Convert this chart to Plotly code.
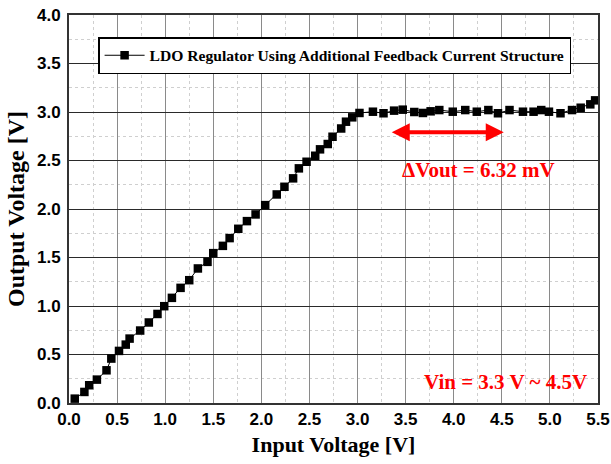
import plotly.graph_objects as go

vin = [0.06, 0.16, 0.21, 0.29, 0.39, 0.44, 0.52, 0.59, 0.63, 0.74,
       0.83, 0.92, 0.99, 1.07, 1.16, 1.25, 1.34, 1.44, 1.50, 1.60,
       1.67, 1.76, 1.85, 1.94, 2.04, 2.16, 2.24, 2.33, 2.39, 2.47,
       2.56, 2.61, 2.69, 2.74, 2.83, 2.88, 2.945, 3.02, 3.16, 3.27,
       3.38, 3.47, 3.59, 3.68, 3.76, 3.85, 3.99, 4.12, 4.24, 4.36,
       4.46, 4.58, 4.72, 4.83, 4.91, 4.99, 5.11, 5.23, 5.32, 5.42, 5.47]
vout = [0.045, 0.114, 0.183, 0.241, 0.337, 0.458, 0.537, 0.602, 0.664, 0.747,
        0.83, 0.918, 0.998, 1.084, 1.187, 1.266, 1.387, 1.455, 1.545, 1.62,
        1.70, 1.796, 1.875, 1.944, 2.04, 2.15, 2.229, 2.316, 2.419, 2.487,
        2.549, 2.615, 2.67, 2.745, 2.83, 2.90, 2.945, 2.99, 3.003, 2.987,
        3.014, 3.024, 3.0, 2.99, 3.007, 3.02, 3.003, 3.02, 3.003, 3.02,
        2.987, 3.02, 3.003, 3.003, 3.02, 3.003, 2.987, 3.02, 3.044, 3.079, 3.12]

series_name = "LDO Regulator Using Additional Feedback Current Structure"
x_ticks = [0.0, 0.5, 1.0, 1.5, 2.0, 2.5, 3.0, 3.5, 4.0, 4.5, 5.0, 5.5]
y_ticks = [0.0, 0.5, 1.0, 1.5, 2.0, 2.5, 3.0, 3.5, 4.0]
arrow_range = [3.34, 4.52]
arrow_level = 2.79
delta_label = "ΔVout = 6.32 mV"
vin_label = "Vin = 3.3 V ~ 4.5V"

serif = "Liberation Serif"
sans = "Liberation Sans"

fig = go.Figure()
fig.add_trace(go.Scatter(
    x=vin, y=vout, mode="lines+markers", name=series_name,
    line=dict(color="black", width=1),
    marker=dict(symbol="square", size=8.5, color="black"),
))

fig.add_annotation(
    x=arrow_range[1], y=arrow_level, ax=arrow_range[0], ay=arrow_level,
    xref="x", yref="y", axref="x", ayref="y", text="",
    showarrow=True, arrowhead=2, arrowside="end+start",
    arrowwidth=4, arrowsize=0.9, arrowcolor="red",
)
fig.add_annotation(
    x=4.26, y=2.40, xref="x", yref="y", text=delta_label, showarrow=False,
    font=dict(family=serif, size=21, color="red", weight="bold"),
)
fig.add_annotation(
    x=4.54, y=0.215, xref="x", yref="y", text=vin_label, showarrow=False,
    font=dict(family=serif, size=21, color="red", weight="bold"),
)

fig.update_layout(
    width=611, height=464,
    margin=dict(l=69, r=13, t=15, b=61),
    plot_bgcolor="white", paper_bgcolor="white",
    showlegend=True,
    legend=dict(
        x=0.055, y=0.943, xanchor="left", yanchor="top",
        bgcolor="white", bordercolor="black", borderwidth=1.5,
        font=dict(family=serif, size=15.6, color="black", weight="bold"),
        itemwidth=40,
    ),
    xaxis=dict(
        range=[0, 5.5], tickvals=x_ticks, ticktext=[f"{v:.1f}" for v in x_ticks],
        automargin=False,
        showgrid=True, gridcolor="#8a8a8a", gridwidth=1.2,
        minor=dict(dtick=0.25, showgrid=True, gridcolor="#cfcfcf", griddash="dot", gridwidth=1),
        showline=True, linecolor="#333", linewidth=2, mirror=True,
        zeroline=False, ticks="",
        tickfont=dict(family=sans, size=17, color="black", weight="bold"),
        title=dict(text="Input Voltage [V]", standoff=8,
                   font=dict(family=serif, size=22, color="black", weight="bold")),
    ),
    yaxis=dict(
        range=[0, 4.0], tickvals=y_ticks, ticktext=[f"{v:.1f}" for v in y_ticks],
        automargin=False, ticklabelstandoff=3,
        showgrid=True, gridcolor="#2a2a2a", gridwidth=1.2,
        minor=dict(dtick=0.25, showgrid=True, gridcolor="#cfcfcf", griddash="dot", gridwidth=1),
        showline=True, linecolor="#333", linewidth=2, mirror=True,
        zeroline=False, ticks="",
        tickfont=dict(family=sans, size=17, color="black", weight="bold"),
        title=dict(text="Output Voltage [V]", standoff=6,
                   font=dict(family=serif, size=24, color="black", weight="bold")),
    ),
)

fig.write_html("out.html")
